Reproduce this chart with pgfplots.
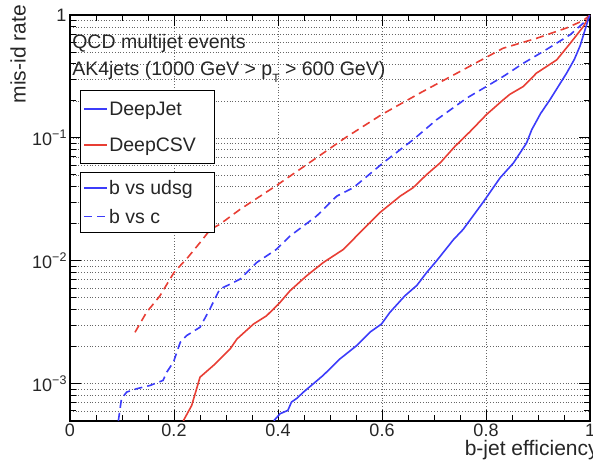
\documentclass[border=0pt]{standalone}
\usepackage{fontspec}
\setmainfont{Liberation Sans}
\usepackage{pgfplots}
\pgfplotsset{compat=1.18}
\definecolor{rootblue}{RGB}{60,60,250}
\definecolor{rootred}{RGB}{232,62,52}
\newcommand{\tenpow}[1]{10\raisebox{0.42em}{\fontsize{12.5}{12.5}\selectfont −#1}}
\begin{document}
\begin{tikzpicture}
\begin{axis}[
  scale only axis, width=520pt, height=405.7pt,
  xmin=0, xmax=1, ymin=5e-4, ymax=1, ymode=log,
  axis line style={line width=1.6pt},
  xtick={0,0.2,0.4,0.6,0.8,1},
  xticklabels={0,0.2,0.4,0.6,0.8,1},
  minor x tick num=3,
  ytick={1e-3,1e-2,1e-1,1},
  yticklabels={\tenpow{3},\tenpow{2},\tenpow{1},1},
  minor ytick={6e-4,7e-4,8e-4,9e-4,2e-3,3e-3,4e-3,5e-3,6e-3,7e-3,8e-3,9e-3,2e-2,3e-2,4e-2,5e-2,6e-2,7e-2,8e-2,9e-2,0.2,0.3,0.4,0.5,0.6,0.7,0.8,0.9},
  major tick length=11pt, minor tick length=6pt,
  tick style={line width=1pt, black},
  xmajorgrids, ymajorgrids, yminorgrids,
  major grid style={line width=0.8pt, dotted, black!60},
  minor grid style={line width=0.8pt, dotted, black!60},
  tick label style={font=\fontsize{18}{20}\selectfont, text=black!85},
  xlabel={b-jet efficiency},
  ylabel={mis-id rate},
  label style={font=\fontsize{21}{24}\selectfont, text=black!85, inner sep=0pt},
  xlabel style={at={(rel axis cs:1.017,-0.0468)}, anchor=north east},
  ylabel style={at={(rel axis cs:-0.0846,1.0246)}, anchor=south east},
]
% DeepCSV b vs c
\addplot[rootred, line width=1.6pt, dash pattern=on 8pt off 5pt] coordinates {
(0.125,2.62e-3) (0.147,3.80e-3) (0.173,5.19e-3) (0.2,8.04e-3) (0.227,1.07e-2) (0.25,1.406e-2)
(0.27,1.80e-2) (0.288,1.98e-2) (0.327,2.62e-2) (0.4,4.18e-2) (0.474,6.89e-2) (0.529,0.1)
(0.599,0.1545) (0.673,0.2317) (0.763,0.3715) (0.833,0.537) (0.897,0.6457) (0.955,0.785)
(0.987,0.9016) (1,1)};
% DeepJet b vs c
\addplot[rootblue, line width=1.6pt, dash pattern=on 8pt off 5pt] coordinates {
(0.093,5.0e-4) (0.099,7.55e-4) (0.109,8.55e-4) (0.128,9.10e-4) (0.154,9.68e-4) (0.179,1.064e-3)
(0.186,1.24e-3) (0.199,1.50e-3) (0.212,2.17e-3) (0.224,2.46e-3) (0.25,2.88e-3) (0.269,4.05e-3)
(0.288,5.89e-3) (0.308,6.46e-3) (0.327,7.10e-3) (0.359,9.68e-3) (0.397,1.24e-2) (0.423,1.59e-2)
(0.474,2.31e-2) (0.513,3.36e-2) (0.545,3.94e-2) (0.603,6.31e-2) (0.660,9.68e-2) (0.705,0.1406)
(0.763,0.2109) (0.801,0.2624) (0.833,0.316) (0.872,0.4055) (0.910,0.5047) (0.962,0.6918)
(0.994,0.912) (1,1)};
% DeepCSV b vs udsg
\addplot[rootred, line width=1.6pt] coordinates {
(0.218,5.0e-4) (0.234,6.65e-4) (0.25,1.13e-3) (0.276,1.41e-3) (0.308,1.92e-3) (0.321,2.31e-3)
(0.353,3.06e-3) (0.378,3.57e-3) (0.404,4.59e-3) (0.423,5.70e-3) (0.455,7.55e-3) (0.487,9.68e-3)
(0.526,1.24e-2) (0.551,1.59e-2) (0.596,2.47e-2) (0.635,3.36e-2) (0.660,3.94e-2) (0.686,5.04e-2)
(0.712,6.27e-2) (0.74,8.51e-2) (0.769,0.1122) (0.801,0.155) (0.833,0.204) (0.846,0.2265) (0.872,0.2624)
(0.897,0.3365) (0.936,0.4315) (0.962,0.589) (0.987,0.8035) (1,1)};
% DeepJet b vs udsg
\addplot[rootblue, line width=1.6pt] coordinates {
(0.392,5.0e-4) (0.404,5.70e-4) (0.419,6.07e-4) (0.426,7.10e-4) (0.436,7.59e-4) (0.449,8.55e-4)
(0.468,1.0e-3) (0.487,1.17e-3) (0.519,1.59e-3) (0.551,2.04e-3) (0.577,2.63e-3) (0.599,3.06e-3)
(0.615,3.80e-3) (0.644,5.19e-3) (0.667,6.31e-3) (0.686,8.04e-3) (0.705,1.0e-2) (0.737,1.48e-2)
(0.756,1.80e-2) (0.795,3.02e-2) (0.827,4.73e-2) (0.853,6.27e-2) (0.878,9.10e-2) (0.888,0.1167)
(0.905,0.158) (0.923,0.2046) (0.955,0.3365) (0.970,0.4365) (0.981,0.5623) (0.997,0.933) (1,1)};
\node[anchor=west, inner sep=0pt, font=\fontsize{19.5}{22}\selectfont, text=black!85] at (rel axis cs:0.004,0.931) {QCD multijet events};
\node[anchor=west, inner sep=0pt, font=\fontsize{19.5}{22}\selectfont, text=black!85] at (rel axis cs:0.004,0.8595) {AK4jets (1000 GeV > p\raisebox{-0.4em}{\fontsize{12}{12}\selectfont T} > 600 GeV)};
\end{axis}
% legend 1
\begin{axis}[
  scale only axis, width=520pt, height=405.7pt,
  xmin=0, xmax=1, ymin=0, ymax=1, hide axis,
  legend cell align=left,
  legend image post style={xscale=1.35},
  legend style={at={(rel axis cs:0.0192,0.815)}, anchor=north west, draw=black, line width=1.3pt,
    fill=white, font=\fontsize{19.5}{23}\selectfont, inner xsep=3pt, inner ysep=10pt, row sep=19pt,
    nodes={inner sep=1pt, text=black!85}},
]
\addlegendimage{rootblue, line width=1.6pt}
\addlegendentry{\makebox[101pt][l]{DeepJet}}
\addlegendimage{rootred, line width=1.6pt}
\addlegendentry{\makebox[101pt][l]{DeepCSV}}
\end{axis}
% legend 2
\begin{axis}[
  scale only axis, width=520pt, height=405.7pt,
  xmin=0, xmax=1, ymin=0, ymax=1, hide axis,
  legend cell align=left,
  legend image code/.code={\draw[#1] (0pt,0pt) -- (23pt,0pt);},
  legend style={at={(rel axis cs:0.0192,0.614)}, anchor=north west, draw=black, line width=1.3pt,
    fill=white, font=\fontsize{19.5}{23}\selectfont, inner xsep=3pt, inner ysep=5pt, row sep=7pt,
    nodes={inner xsep=1pt, inner ysep=3pt, text=black!85}},
]
\addlegendimage{rootblue, line width=1.6pt, solid}
\addlegendentry{\makebox[101pt][l]{b vs udsg}}
\addlegendimage{rootblue, line width=1.6pt, dash pattern=on 8pt off 5pt}
\addlegendentry{\makebox[101pt][l]{b vs c}}
\end{axis}
\pgfresetboundingbox
\path[use as bounding box] (-70pt,-40.3pt) rectangle (523pt,420.7pt);
\end{tikzpicture}
\end{document}
